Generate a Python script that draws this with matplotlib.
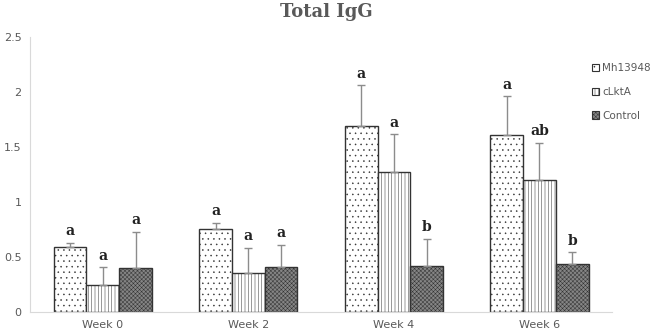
import numpy as np
import matplotlib.pyplot as plt
from matplotlib.patches import Patch

weeks = ['Week 0', 'Week 2', 'Week 4', 'Week 6']
groups = ['Mh13948', 'cLktA', 'Control']
means = {
    'Mh13948': [0.595, 0.755, 1.69, 1.605],
    'cLktA':   [0.245, 0.357, 1.27, 1.20],
    'Control': [0.40, 0.405, 0.42, 0.434],
}
errs = {
    'Mh13948': [0.035, 0.055, 0.37, 0.36],
    'cLktA':   [0.16, 0.228, 0.345, 0.34],
    'Control': [0.33, 0.205, 0.245, 0.11],
}
letters = {
    'Mh13948': ['a', 'a', 'a', 'a'],
    'cLktA':   ['a', 'a', 'a', 'ab'],
    'Control': ['a', 'a', 'b', 'b'],
}

styles = {
    'Mh13948': dict(facecolor='white', hatch='...'),
    'cLktA':   dict(facecolor='white', hatch='|||||'),
    'Control': dict(facecolor='#858585', hatch='xxxxxxxx'),
}

plt.rcParams['hatch.linewidth'] = 0.35
gray = '#595959'

fig = plt.figure(figsize=(6.52, 3.34), dpi=100)
ax = fig.add_axes([0.046, 0.066, 0.893, 0.823])

x = np.arange(len(weeks))
w = 0.225
for i, g in enumerate(groups):
    pos = x + (i - 1) * w
    ax.bar(pos, means[g], w, edgecolor='#333333', linewidth=1.0, **styles[g])
    ax.errorbar(pos, means[g], yerr=[np.zeros(4), errs[g]], fmt='none',
                ecolor='#8c8c8c', elinewidth=1.0, capsize=3, capthick=1.0)
    for p, m, e, lab in zip(pos, means[g], errs[g], letters[g]):
        ax.text(p, m + e + 0.04, lab, ha='center', va='bottom',
                family='DejaVu Serif', fontweight='bold', fontsize=10,
                color='#222222')

ax.set_xlim(-0.5, 3.5)
ax.set_ylim(0, 2.5)
ax.set_xticks(x)
ax.set_xticklabels(weeks)
ax.set_yticks([0, 0.5, 1, 1.5, 2, 2.5])
ax.set_yticklabels(['0', '0.5', '1', '1.5', '2', '2.5'])
ax.tick_params(length=0, labelsize=8, labelcolor=gray, pad=6)
for s in ['top', 'right']:
    ax.spines[s].set_visible(False)
for s in ['left', 'bottom']:
    ax.spines[s].set_color('#d9d9d9')

fig.text(0.5, 0.965, 'Total IgG', ha='center', va='center',
         family='DejaVu Serif', fontweight='bold', fontsize=13, color=gray)

handles = [Patch(edgecolor='#333333', linewidth=0.8, **styles[g]) for g in groups]
leg = fig.legend(handles, groups, loc='upper left', bbox_to_anchor=(0.908, 0.81),
                 frameon=False, fontsize=7.5, handlelength=0.7, handleheight=0.7,
                 handletextpad=0.25, labelspacing=1.3, labelcolor=gray,
                 borderaxespad=0, borderpad=0)

fig.savefig('out.png', dpi=100)
